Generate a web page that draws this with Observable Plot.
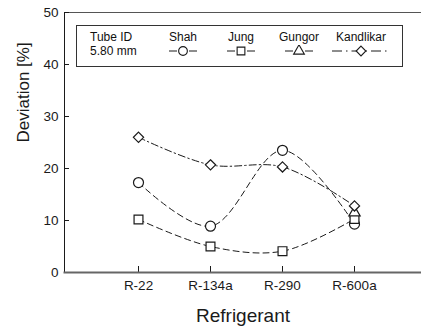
<!DOCTYPE html>
<html>
<head>
<meta charset="utf-8">
<script src="https://cdn.jsdelivr.net/npm/d3@7"></script>
<script src="https://cdn.jsdelivr.net/npm/@observablehq/plot@0.6"></script>
<style>
  body { margin: 0; background: #fff; overflow: hidden; font-family: "Liberation Sans", Arial, sans-serif; }
  #chart { position: relative; width: 421px; height: 327px; overflow: hidden; }
  .legend { position: absolute; left: 76px; top: 25px; width: 327px; height: 42px; box-sizing: border-box;
            border: 1px solid #333; background: #fff; display: flex; padding: 4px 0 0 13px;
            font-size: 12px; line-height: 14px; color: #111; }
  .legend .id { width: 64px; }
  .legend .item { width: 58px; display: flex; flex-direction: column; align-items: center; }
  .legend .item.wide { width: 66px; }
  .legend svg { display: block; margin-top: 1px; }
</style>
</head>
<body>
<div id="chart"></div>
<script>
// Prediction deviation of four correlations, tube ID 5.80 mm
const refrigerants = ["R-22", "R-134a", "R-290", "R-600a"];
const shah      = [17.3, 8.9, 23.5, 9.3];
const jung      = [10.2, 5.0, 4.1, 10.3];
const gungor    = [null, null, null, 11.5];
const kandlikar = [26.0, 20.7, 20.3, 12.8];
const yTicks = [0, 10, 20, 30, 40, 50];

const tubeLabel = ["Tube ID", "5.80 mm"];
const seriesNames = ["Shah", "Jung", "Gungor", "Kandlikar"];
const seriesValues = [shah, jung, gungor, kandlikar];
const seriesSymbols = ["circle", "square", "triangle", "diamond2"];
const seriesRadius = [5, 5, 4.2, 4.6];
const seriesDash = ["6,4", "6,4", "5,4", "7,3,1.5,3"];

const rows = seriesNames.flatMap((name, i) =>
  refrigerants.map((r, j) => ({series: name, refrigerant: r, value: seriesValues[i][j]}))
    .filter(d => d.value != null));

const ink = "#1a1a1a";

const lineMarks = seriesNames.map((name, i) => {
  const pts = rows.filter(d => d.series === name);
  return pts.length > 1
    ? Plot.line(pts, {x: "refrigerant", y: "value", curve: "catmull-rom",
        stroke: ink, strokeWidth: 1, strokeDasharray: seriesDash[i]})
    : null;
});

const dotMarks = seriesNames.map((name, i) =>
  Plot.dot(rows.filter(d => d.series === name), {x: "refrigerant", y: "value",
    symbol: () => seriesSymbols[i], r: seriesRadius[i], fill: "white", stroke: ink, strokeWidth: 1.2}));

const chart = Plot.plot({
  width: 421,
  height: 327,
  marginLeft: 64,
  marginRight: 0,
  marginTop: 12,
  marginBottom: 55,
  style: {fontFamily: "Liberation Sans, Arial, sans-serif", color: ink, background: "white"},
  x: {type: "point", domain: refrigerants, padding: 1, range: [64, 427]},
  y: {domain: [0, 50]},
  marks: [
    Plot.frame({anchor: "top", stroke: "#555", strokeWidth: 1}),
    Plot.frame({anchor: "left", stroke: ink, strokeWidth: 1}),
    Plot.axisY({ticks: yTicks, tickSize: -5, tickPadding: 11, fontSize: 13.5, label: null, stroke: ink}),
    Plot.axisX({tickSize: -6, tickPadding: 14, fontSize: 13.5, label: null, stroke: ink}),
    Plot.frame({anchor: "bottom", stroke: "#666", strokeWidth: 2}),
    ...lineMarks.filter(Boolean),
    ...dotMarks,
    Plot.text(["Deviation [%]"], {frameAnchor: "left", rotate: -90, dx: -41, dy: 0, fontSize: 17, fill: ink}),
    Plot.text(["Refrigerant"], {frameAnchor: "bottom", dy: 43, lineAnchor: "middle", fontSize: 19, fill: ink})
  ]
});
document.getElementById("chart").appendChild(chart);

// Legend box drawn over the plotting area
const legend = d3.select("#chart").append("div").attr("class", "legend");
legend.append("div").attr("class", "id").selectAll("div").data(tubeLabel).join("div").text(d => d);
const symbolPath = {
  circle: d3.symbol(d3.symbolCircle, 60)(),
  square: d3.symbol(d3.symbolSquare, 60)(),
  triangle: d3.symbol(d3.symbolTriangle, 50)(),
  diamond2: d3.symbol(d3.symbolDiamond2, 60)()
};
seriesNames.forEach((name, i) => {
  const wide = name === "Kandlikar";
  const item = legend.append("div").attr("class", wide ? "item wide" : "item");
  item.append("div").text(name);
  const w = wide ? 58 : 28;
  const svg = item.append("svg").attr("width", w).attr("height", 12);
  svg.append("line").attr("x1", 0).attr("x2", w).attr("y1", 6).attr("y2", 6)
    .attr("stroke", ink).attr("stroke-width", 1).attr("stroke-dasharray", wide ? "10,4,1.5,4" : "8,12");
  svg.append("path").attr("d", symbolPath[seriesSymbols[i]]).attr("transform", `translate(${w / 2 + (wide ? 0 : 0)},6)`)
    .attr("fill", "white").attr("stroke", ink).attr("stroke-width", 1.1);
});
</script>
</body>
</html>
